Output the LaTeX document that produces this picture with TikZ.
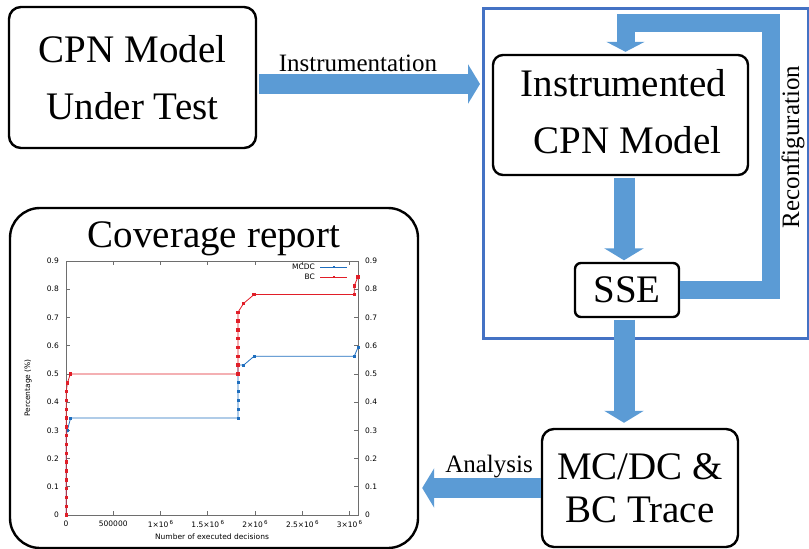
\documentclass[tikz,border=0pt]{standalone}
\usepackage{fontspec}
\setmainfont{Liberation Serif}
\newfontfamily\plotfont{DejaVu Sans}
\usetikzlibrary{arrows.meta,plotmarks}
\definecolor{arrowblue}{HTML}{5B9BD5}
\definecolor{frameblue}{HTML}{4472C4}
\definecolor{mcdcblue}{RGB}{30,110,190}
\definecolor{bcred}{RGB}{225,30,40}
\definecolor{axisgray}{RGB}{110,110,110}
\newcommand\plotsix{\,\raisebox{0.45em}{\fontsize{5.5}{6}\selectfont 6}}
\begin{document}
\begin{tikzpicture}[x=1pt,y=-1pt,
  bigbox/.style={draw=black, line width=2.4pt, align=center, inner sep=0pt,
    font=\fontsize{39}{57}\selectfont},
  fat/.style={draw=arrowblue, line width=20pt, line join=miter,
    -{Triangle[width=39pt,length=12pt]}},
  lbl/.style={font=\fontsize{25}{30}\selectfont, inner sep=0pt},
  tick/.style={font=\plotfont\fontsize{7.5}{9}\selectfont, inner sep=0pt},
  axisline/.style={draw=axisgray, line width=0.6pt},
  loopbar/.style={draw=arrowblue, line width=18pt, line join=miter,
    -{Triangle[width=38pt,length=10pt]}}
]
\useasboundingbox (0,0) rectangle (809,549);

% boxes
\node[bigbox, rounded corners=12pt, minimum width=247pt, minimum height=141pt] (under) at (132.5,77.5) {CPN Model\\Under Test};
\node[draw=frameblue, line width=3pt, minimum width=325pt, minimum height=330pt, inner sep=0pt] (frame) at (645.5,173) {};
\node[bigbox, rounded corners=10pt, minimum width=255pt, minimum height=120pt, text depth=8pt] (instr) at (620.5,115) {\hspace*{6pt}Instrumented\\\hspace*{14pt}CPN Model};
\node[bigbox, rounded corners=6pt, minimum width=104pt, minimum height=54pt] (sse) at (627,290) {SSE};
\node[bigbox, rounded corners=12pt, minimum width=196pt, minimum height=118pt, font=\fontsize{39}{43}\selectfont] (mcdc) at (640,488) {MC/DC \&\\BC Trace};
\node[draw=black, line width=2.4pt, rounded corners=30pt, minimum width=408pt, minimum height=340pt, inner sep=0pt] (cov) at (214,378) {};
\node[font=\fontsize{39}{44}\selectfont, anchor=base, inner sep=0pt] (covtitle) at (214,247) {Coverage report};

% arrows
\coordinate (iy) at (0,84);
\draw[fat, shorten <=2pt, shorten >=1.5pt] (under.east |- iy) -- (frame.west |- iy);
\node[lbl] (ilabel) at (358,63) {Instrumentation};

\coordinate (vx) at (624,0);
\draw[fat, line width=21pt, shorten <=1.5pt, shorten >=1.5pt] (instr.south -| vx) -- (sse.north -| vx);
\draw[fat, line width=21pt, shorten <=1.5pt, shorten >=5pt] (sse.south -| vx) -- (mcdc.north -| vx);

\draw[fat, shorten >=3pt] (mcdc.west) -- (cov.east |- mcdc.west);
\node[lbl] (alabel) at (489,467) {Analysis};

\coordinate (loopr) at (771,22.5);
\coordinate (loopx) at (625.5,0);
\draw[loopbar] (sse.east) -| (loopr) -| ([yshift=2pt]instr.north -| loopx);
\node[lbl, rotate=90] (rlabel) at (793,147) {Reconfiguration};

% chart
\node[tick, rotate=90] (ylab) at (28,388) {Percentage (\%)};
\node[tick] (xlab) at (212,537) {Number of executed decisions};
\begin{scope}[shift={(66pt,-515pt)}, x=94.5pt, y=282.2pt]
  \draw[axisline] (0,0) rectangle (3.09,0.9);
  \foreach \i/\t in {0/0,1/0.1,2/0.2,3/0.3,4/0.4,5/0.5,6/0.6,7/0.7,8/0.8,9/0.9} {
    \draw[axisline] (0,\i/10) -- ++(4pt,0);
    \draw[axisline] (3.09,\i/10) -- ++(-4pt,0);
    \node[tick, anchor=east, xshift=-7pt] (yl\i) at (0,\i/10) {\t};
    \node[tick, anchor=west, xshift=7pt] (yr\i) at (3.09,\i/10) {\t};
  }
  \foreach \x/\t [count=\k] in {0/{0},0.5/{500000},1/{1×10\plotsix},1.5/{1.5×10\plotsix},2/{2×10\plotsix},2.5/{2.5×10\plotsix},3/{3×10\plotsix}} {
    \draw[axisline] (\x,0) -- ++(0,4pt);
    \draw[axisline] (\x,0.9) -- ++(0,-4pt);
    \node[tick, yshift=-9pt] (xl\k) at (\x,0) {\t};
  }
  \draw[mcdcblue, line width=0.8pt] plot[mark=square*, mark size=1pt, mark options={fill=mcdcblue, draw=mcdcblue}] coordinates {
    (0.003,0) (0.003,0.03125) (0.003,0.0625) (0.003,0.09375) (0.003,0.125)
    (0.003,0.15625) (0.003,0.1875) (0.003,0.21875) (0.003,0.25) (0.003,0.28125)
    (0.014,0.3) (0.049,0.34375) (1.82,0.34375) (1.82,0.375) (1.82,0.40625)
    (1.82,0.4375) (1.82,0.46875) (1.82,0.5) (1.82,0.53125) (1.88,0.53125)
    (1.99,0.5625) (3.05,0.5625) (3.09,0.59375)};
  \draw[bcred, line width=0.8pt] plot[mark=square*, mark size=1.2pt, mark options={fill=bcred, draw=bcred}] coordinates {
    (0.003,0) (0.003,0.03125) (0.003,0.0625) (0.003,0.09375) (0.003,0.125)
    (0.003,0.15625) (0.003,0.1875) (0.003,0.21875) (0.003,0.25) (0.003,0.28125)
    (0.003,0.3125) (0.003,0.34375) (0.003,0.375) (0.003,0.40625) (0.003,0.4375)
    (0.015,0.46875) (0.047,0.5) (1.82,0.5) (1.82,0.53125) (1.82,0.5625)
    (1.82,0.59375) (1.82,0.625) (1.82,0.65625) (1.82,0.6875) (1.82,0.71875)
    (1.88,0.75) (1.99,0.78125) (3.05,0.78125) (3.05,0.8125) (3.09,0.84375)};
\end{scope}
% legend
\node[tick, anchor=east] (legm) at (315,267) {MCDC};
\node[tick, anchor=east] (legb) at (315,277) {BC};
\coordinate (lm1) at (320,267); \coordinate (lm2) at (347,267);
\coordinate (lb1) at (320,277); \coordinate (lb2) at (347,277);
\draw[mcdcblue, line width=0.8pt] (lm1) -- (lm2);
\draw[bcred, line width=0.8pt] (lb1) -- (lb2);
\fill[mcdcblue] (333,266) rectangle (335,268);
\fill[bcred] (332.7,275.7) rectangle (335.3,278.3);
\end{tikzpicture}
\end{document}
